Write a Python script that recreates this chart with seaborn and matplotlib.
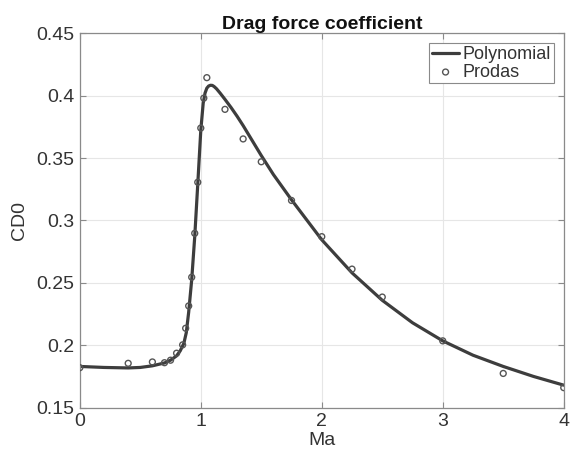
import numpy as np
import pandas as pd
import matplotlib
matplotlib.use("Agg")
import matplotlib.pyplot as plt
from matplotlib.ticker import FuncFormatter
import seaborn as sns

# Polynomial fit curve
ma_curve = [0, 0.2, 0.4, 0.5, 0.6, 0.7, 0.75, 0.8, 0.83, 0.86, 0.88, 0.9, 0.925,
            0.95, 0.975, 1.0, 1.02, 1.035, 1.05, 1.065, 1.08, 1.095, 1.11, 1.13,
            1.16, 1.2, 1.25, 1.3, 1.35, 1.4, 1.45, 1.5, 1.6, 1.75, 2.0, 2.25, 2.5,
            2.75, 3.0, 3.25, 3.5, 3.75, 4.0]
cd0_curve = [0.183, 0.1822, 0.1818, 0.1822, 0.1835, 0.1858, 0.188, 0.1915, 0.1955,
             0.2015, 0.2100, 0.2265, 0.2525, 0.2870, 0.3290, 0.3720, 0.3940, 0.4020,
             0.4060, 0.4077, 0.4083, 0.4082, 0.4073, 0.4055, 0.4020, 0.3970, 0.3905,
             0.3835, 0.3760, 0.3680, 0.3600, 0.3520, 0.3368, 0.3165, 0.2845, 0.2580,
             0.2360, 0.2180, 0.2035, 0.1920, 0.1830, 0.1750, 0.1680]

# Prodas reference points
ma_prodas = [0, 0.4, 0.6, 0.7, 0.75, 0.8, 0.85, 0.875, 0.9, 0.925, 0.95, 0.975,
             1.0, 1.025, 1.05, 1.2, 1.35, 1.5, 1.75, 2.0, 2.25, 2.5, 3.0, 3.5, 4.0]
cd0_prodas = [0.182, 0.1855, 0.1866, 0.186, 0.188, 0.1936, 0.2003, 0.2136, 0.2315,
              0.2545, 0.2897, 0.3306, 0.374, 0.398, 0.4144, 0.389, 0.3653, 0.347,
              0.316, 0.287, 0.261, 0.2386, 0.2035, 0.1774, 0.166]

curve_df = pd.DataFrame({"Ma": ma_curve, "CD0": cd0_curve})
prodas_df = pd.DataFrame({"Ma": ma_prodas, "CD0": cd0_prodas})

sns.set_style("whitegrid")
plt.rcParams["font.family"] = ["Liberation Sans", "DejaVu Sans"]

fig = plt.figure(figsize=(5.7, 4.68), dpi=100)
ax = fig.add_axes([0.14, 0.129, 0.849, 0.8])

sns.lineplot(data=curve_df, x="Ma", y="CD0", ax=ax, color="#3d3d3d",
             linewidth=2.3, label="Polynomial", sort=False)
sns.scatterplot(data=prodas_df, x="Ma", y="CD0", ax=ax, marker="o", s=18,
                facecolor="none", edgecolor="#555555", linewidth=1.0,
                label="Prodas", zorder=3)

ax.set_xlim(0, 4)
ax.set_ylim(0.15, 0.45)
ax.set_xticks([0, 1, 2, 3, 4])
ax.set_yticks([0.15, 0.2, 0.25, 0.3, 0.35, 0.4, 0.45])
ax.yaxis.set_major_formatter(FuncFormatter(lambda v, p: f"{v:g}"))

ax.grid(True, color="#e6e6e6", linewidth=0.8)
for s in ax.spines.values():
    s.set_color("#8a8a8a")
    s.set_linewidth(0.9)
ax.tick_params(direction="in", length=4, width=0.8, colors="#8a8a8a",
               labelcolor="#333333", labelsize=14, top=True, right=True,
               bottom=True, left=True, pad=4)

ax.set_xlabel("Ma", fontsize=14, color="#333333", labelpad=1)
ax.set_ylabel("CD0", fontsize=14, color="#333333", labelpad=6)
ax.set_title("Drag force coefficient", fontsize=14, fontweight="bold",
             color="#111111", pad=3)

leg = ax.legend(loc="upper right", fontsize=13, frameon=True, fancybox=False,
                framealpha=1, edgecolor="#8a8a8a", handlelength=1.5,
                handletextpad=0.2, borderpad=0.15, labelspacing=0.05,
                borderaxespad=0.55)
leg.get_frame().set_linewidth(0.8)
for t in leg.get_texts():
    t.set_color("#333333")

fig.savefig("out.png", dpi=100)
